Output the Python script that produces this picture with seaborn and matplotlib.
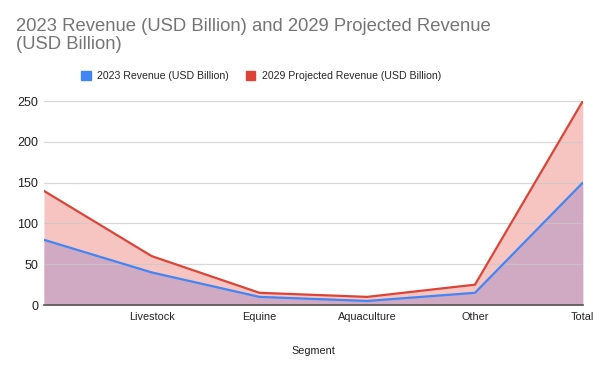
import numpy as np
import pandas as pd
import matplotlib
matplotlib.use("Agg")
import matplotlib.pyplot as plt
import seaborn as sns
from matplotlib.patches import Patch

# =================== Dados ===================
segments = ["Companion Animals", "Livestock", "Equine", "Aquaculture", "Other", "Total"]
tick_labels = ["", "Livestock", "Equine", "Aquaculture", "Other", "Total"]
revenue_2023 = [80, 40, 10, 5, 15, 150]
revenue_2029 = [140, 60, 15, 10, 25, 250]
yticks = [0, 50, 100, 150, 200, 250]

name_2023 = "2023 Revenue (USD Billion)"
name_2029 = "2029 Projected Revenue (USD Billion)"

BLUE = "#4285F4"
RED = "#DB4437"

df = pd.DataFrame({"Segment": segments, name_2023: revenue_2023, name_2029: revenue_2029})
df["pos"] = np.arange(len(df))

sns.set_theme(style="white")
plt.rcParams["font.family"] = ["Liberation Sans", "DejaVu Sans"]

fig = plt.figure(figsize=(6.02, 3.72), dpi=100)
ax = fig.add_axes([0.073, 0.180, 0.895, 0.548])

# areas (cores tiradas da imagem)
ax.fill_between(df["pos"], 0, df[name_2029], color="#F6C5C2", lw=0, zorder=0.2)
ax.fill_between(df["pos"], 0, df[name_2023], color="#D0AAC3", lw=0, zorder=0.3)

sns.lineplot(data=df, x="pos", y=name_2029, color=RED, lw=1.6, ax=ax, zorder=2)
sns.lineplot(data=df, x="pos", y=name_2023, color=BLUE, lw=1.6, ax=ax, zorder=3)

ax.set_xlim(0, len(df) - 1)
ax.set_ylim(0, 250)
ax.set_yticks(yticks)
ax.set_yticklabels([str(v) for v in yticks], fontsize=9, color="#222222")
ax.set_xticks(df["pos"])
ax.set_xticklabels(tick_labels, fontsize=7.8, color="#222222")
ax.tick_params(axis="y", length=0, pad=4)
ax.tick_params(axis="x", length=0, pad=5)
ax.grid(axis="y", color="#c8c8c8", lw=0.9, alpha=0.7)
ax.set_axisbelow(True)
for s in ["top", "right", "left"]:
    ax.spines[s].set_visible(False)
ax.spines["bottom"].set_color("#555555")
ax.spines["bottom"].set_linewidth(1.2)
ax.spines["bottom"].set_zorder(4)

ax.set_xlabel("Segment", fontsize=7.8, color="#222222", labelpad=17)
ax.set_ylabel("")

fig.text(0.027, 0.952, "2023 Revenue (USD Billion) and 2029 Projected Revenue\n(USD Billion)",
         fontsize=13.3, color="#757575", ha="left", va="top", linespacing=1.05)

handles = [Patch(color=BLUE, label=name_2023), Patch(color=RED, label=name_2029)]
fig.legend(handles=handles, loc="center", bbox_to_anchor=(0.434, 0.796), ncol=2, frameon=False,
           fontsize=7.6, handlelength=0.9, handleheight=0.9, columnspacing=1.6, handletextpad=0.6)

fig.savefig("out.png", dpi=100)
plt.close(fig)
